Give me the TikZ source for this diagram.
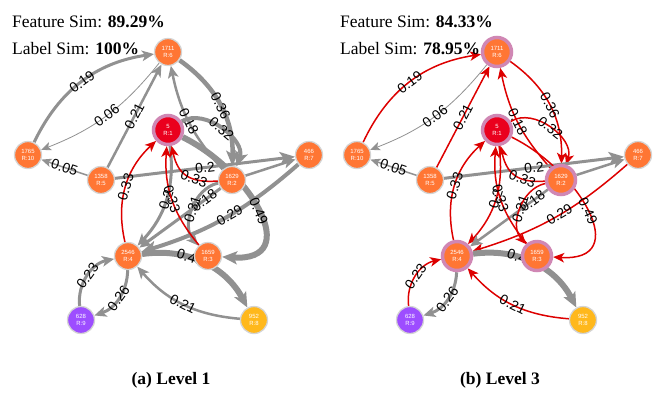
\documentclass[tikz,border=0pt]{standalone}
\usepackage{fontspec}
\setmainfont{Liberation Serif}
\newfontfamily\lblfont{Liberation Sans}
\usetikzlibrary{arrows.meta}
\pgfdeclarelayer{edgelayer}
\pgfsetlayers{edgelayer,main}
\definecolor{egray}{RGB}{145,145,145}
\definecolor{ered}{RGB}{221,0,0}
\definecolor{norange}{RGB}{255,118,52}
\definecolor{nred}{RGB}{234,0,30}
\definecolor{npurple}{RGB}{157,77,255}
\definecolor{nyellow}{RGB}{255,184,28}
\definecolor{nborder}{RGB}{212,212,212}
\definecolor{nring}{RGB}{208,135,180}
\tikzset{
  nd/.style={circle, minimum size=27pt, inner sep=0pt, draw=nborder, line width=1.3pt,
    text=white, font=\lblfont\fontsize{6}{6.6}\selectfont, align=center},
  hl/.style={draw=nring, line width=3.5pt, minimum size=29pt},
  gedge/.style={draw=egray, line width=#1},
  aS/.style={-{Stealth[length=10pt,width=8.5pt,inset=2.5pt]}},
  aM/.style={-{Stealth[length=12pt,width=10.5pt,inset=3pt]}},
  aL/.style={-{Stealth[length=15pt,width=13pt,inset=3.5pt]}},
  redge/.style={draw=ered, line width=1.5pt, -{Stealth[length=11pt,width=9.5pt,inset=3pt]}},
  lb/.style={font=\lblfont\fontsize{14}{14}\selectfont, sloped, inner sep=0pt, text=black},
  ttl/.style={font=\fontsize{17.5}{20}\selectfont, anchor=base west, inner sep=0pt},
  capt/.style={font=\fontsize{17.5}{20}\selectfont\bfseries, anchor=base, inner sep=0pt}
}
\begin{document}
\begin{tikzpicture}[x=1pt,y=1pt]
\useasboundingbox (0,0) rectangle (653,-392);

% ---------- texts ----------
\node[ttl] (t1) at (12,-27) {Feature Sim: \textbf{89.29\%}};
\node[ttl] (t2) at (12,-54) {Label Sim: \textbf{100\%}};
\node[ttl] (t3) at (340,-27) {Feature Sim: \textbf{84.33\%}};
\node[ttl] (t4) at (340,-54) {Label Sim: \textbf{78.95\%}};
\node[capt] (c1) at (171,-384) {(a) Level 1};
\node[capt] (c2) at (500,-384) {(b) Level 3};

% ---------- left nodes ----------
\node[nd,fill=norange] (a1711) at (168,-52) {1711\\R:6};
\node[nd,hl,fill=nred] (a5) at (168,-130) {5\\R:1};
\node[nd,fill=norange] (a1765) at (28,-155) {1765\\R:10};
\node[nd,fill=norange] (a1358) at (101,-180) {1358\\R:5};
\node[nd,fill=norange] (a1629) at (232,-180) {1629\\R:2};
\node[nd,fill=norange] (a466) at (309,-155) {466\\R:7};
\node[nd,fill=norange] (a2546) at (128,-256) {2546\\R:4};
\node[nd,fill=norange] (a1659) at (208,-256) {1659\\R:3};
\node[nd,fill=npurple] (a628) at (81,-320) {628\\R:9};
\node[nd,fill=nyellow] (a952) at (254,-320) {952\\R:8};

% ---------- right nodes ----------
\begin{scope}[xshift=329pt]
\node[nd,hl,fill=norange] (b1711) at (168,-52) {1711\\R:6};
\node[nd,hl,fill=nred] (b5) at (168,-130) {5\\R:1};
\node[nd,fill=norange] (b1765) at (28,-155) {1765\\R:10};
\node[nd,fill=norange] (b1358) at (101,-180) {1358\\R:5};
\node[nd,hl,fill=norange] (b1629) at (232,-180) {1629\\R:2};
\node[nd,fill=norange] (b466) at (309,-155) {466\\R:7};
\node[nd,hl,fill=norange] (b2546) at (128,-256) {2546\\R:4};
\node[nd,hl,fill=norange] (b1659) at (208,-256) {1659\\R:3};
\node[nd,fill=npurple] (b628) at (81,-320) {628\\R:9};
\node[nd,fill=nyellow] (b952) at (254,-320) {952\\R:8};
\end{scope}

\begin{pgfonlayer}{edgelayer}
% ---------- left edges ----------
\draw[gedge=3,aM] (a1765) to[bend left=28] node[lb]{0.19} (a1711);
\draw[gedge=0.8,aS] (a1711) to[bend left=15] node[lb]{0.06} (a1765);
\draw[gedge=2.5,aM] (a1358) to node[lb]{0.21} (a1711);
\draw[gedge=1.5,aS] (a1358) to node[lb]{0.05} (a1765);
\draw[gedge=4.5,aL] (a1711) to[bend left=28] node[lb]{0.36} (a1629);
\draw[gedge=2.5,aM] (a1629) to[bend left=15] node[lb,pos=0.5]{0.18} (a1711);
\draw[gedge=4,aL] (a5) to[bend left=70] node[lb]{0.32} (a1629);
\draw[gedge=3,aL] (a1358) to node[lb]{0.2} (a466);
\draw[gedge=2.5,aM] (a1629) to (a466);
\draw[gedge=4,aL] (a466) to[bend left=12] node[lb,pos=0.47]{0.29} (a2546);
\draw[gedge=6,aL] (a5) .. controls +(82,-40) and +(97,-6) .. (a1659) node[lb,pos=0.5]{0.49};
\draw[gedge=3,aM] (a5) to[bend left=25] node[lb]{0.2} (a2546);
\draw[gedge=3,aM] (a1629) to node[lb,pos=0.2]{0.18} (a2546);
\draw[gedge=3,aM] (a1629) to[bend right=60] node[lb]{0.31} (a1659);
\draw[gedge=6,aL] (a2546) to[bend left=35] node[lb,pos=0.38]{0.45} (a952);
\draw[gedge=2.5,aM] (a952) to[bend left=22] node[lb]{0.21} (a2546);
\draw[gedge=3,aM] (a628) to[bend left=42] node[lb]{0.23} (a2546);
\draw[gedge=3,aM] (a2546) to[bend left=35] node[lb]{0.26} (a628);
\draw[redge] (a2546) to[bend left=30] node[lb]{0.33} (a5);
\draw[redge] (a1659) to[bend left=22] node[lb]{0.33} (a5);
\draw[redge] (a1629) .. controls +(-42,-3) and +(10,-45) .. (a5) node[lb,pos=0.35]{0.33};

% ---------- right edges ----------
\draw[redge] (b1765) to[bend left=28] node[lb]{0.19} (b1711);
\draw[gedge=0.8,aS] (b1711) to[bend left=15] node[lb]{0.06} (b1765);
\draw[redge] (b1358) to node[lb]{0.21} (b1711);
\draw[gedge=1.5,aS] (b1358) to node[lb]{0.05} (b1765);
\draw[redge] (b1711) to[bend left=28] node[lb]{0.36} (b1629);
\draw[redge] (b1629) to[bend left=15] node[lb,pos=0.5]{0.18} (b1711);
\draw[redge] (b5) to[bend left=70] node[lb]{0.32} (b1629);
\draw[gedge=3,aL] (b1358) to node[lb]{0.2} (b466);
\draw[gedge=2.5,aM] (b1629) to (b466);
\draw[redge] (b466) to[bend left=12] node[lb,pos=0.47]{0.29} (b2546);
\draw[redge] (b5) .. controls +(82,-40) and +(97,-6) .. (b1659) node[lb,pos=0.5]{0.49};
\draw[redge] (b5) to[bend left=25] node[lb]{0.2} (b2546);
\draw[gedge=2.5,aM] (b1629) to node[lb,pos=0.2]{0.18} (b2546);
\draw[redge] (b1629) to[bend right=60] node[lb]{0.31} (b1659);
\draw[gedge=6,aL] (b2546) to[bend left=35] node[lb,pos=0.38]{0.45} (b952);
\draw[redge] (b952) to[bend left=22] node[lb]{0.21} (b2546);
\draw[redge] (b628) to[bend left=42] node[lb]{0.23} (b2546);
\draw[gedge=3,aM] (b2546) to[bend left=35] node[lb]{0.26} (b628);
\draw[redge] (b2546) to[bend left=30] node[lb]{0.33} (b5);
\draw[redge] (b1659) to[bend left=22] node[lb]{0.33} (b5);
\draw[redge] (b1629) .. controls +(-42,-3) and +(10,-45) .. (b5) node[lb,pos=0.35]{0.33};
\end{pgfonlayer}
\end{tikzpicture}
\end{document}
